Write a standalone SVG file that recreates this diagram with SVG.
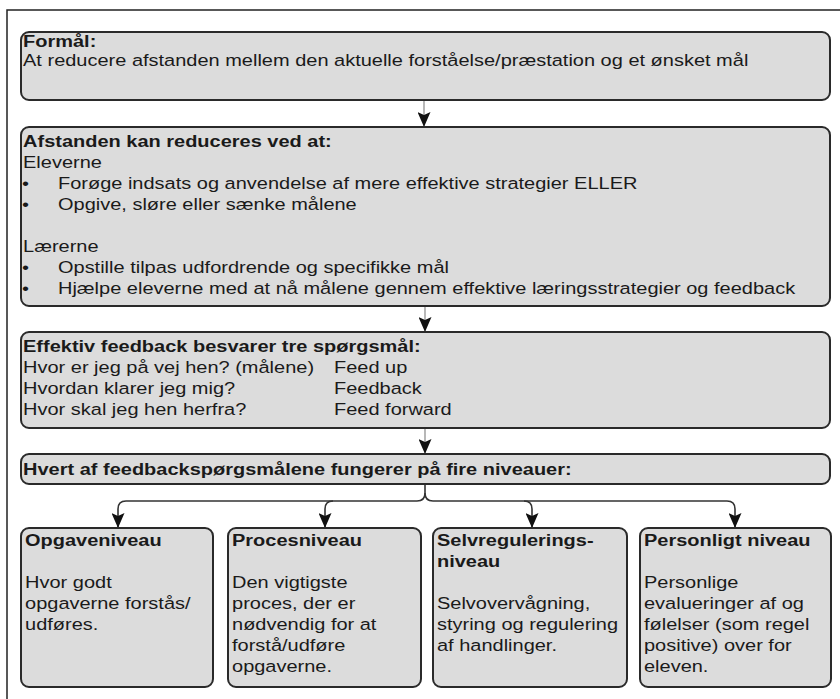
<svg xmlns="http://www.w3.org/2000/svg" width="840" height="699" viewBox="0 0 840 699">
<defs>
<style>
.box{fill:#dcdcdc;stroke:#2a2a2a;stroke-width:2}
.t{font-family:"Liberation Sans",Arial,sans-serif;font-size:17px;fill:#1a1a1a}
.b{font-weight:bold}
.conn{fill:none;stroke:#333;stroke-width:1.6}
.stem{fill:none;stroke:#888;stroke-width:1.2}
.frame{fill:none;stroke:#222;stroke-width:1.5}
</style>
<marker id="ah" viewBox="0 0 15 13" refX="15" refY="6.5" markerWidth="15" markerHeight="13" markerUnits="userSpaceOnUse" orient="auto">
<path d="M0,0 L15,6.5 L0,13 L3,6.5 Z" fill="#111"/>
</marker>
</defs>
<rect width="840" height="699" fill="#ffffff"/>
<path class="frame" d="M7,699 V10 H840"/>

<g id="connectors">
<path class="stem" d="M424,100 V127" marker-end="url(#ah)"/>
<path class="stem" d="M425,306 V332" marker-end="url(#ah)"/>
<path class="stem" d="M425,428 V454" marker-end="url(#ah)"/>
<path class="conn" d="M425,484 V493 Q425,501 417,501 H126 Q118,501 118,509 V528" marker-end="url(#ah)"/>
<path class="conn" d="M333,501 Q325,501 325,509 V528" marker-end="url(#ah)"/>
<path class="conn" d="M425,493 Q425,501 433,501 H727 Q735,501 735,509 V528" marker-end="url(#ah)"/>
<path class="conn" d="M524,501 Q532,501 532,509 V528" marker-end="url(#ah)"/>
</g>

<g id="formaal">
<rect class="box" x="21" y="32" width="809" height="68" rx="8"/>
<g transform="scale(1.176,1)">
<text class="t b" x="19.6" y="47">Formål:</text>
<text class="t" x="19.6" y="66">At reducere afstanden mellem den aktuelle forståelse/præstation og et ønsket mål</text>
</g>
</g>

<g id="afstanden">
<rect class="box" x="21" y="127" width="809" height="179" rx="8"/>
<g transform="scale(1.176,1)">
<text class="t b" x="19.6" y="147">Afstanden kan reduceres ved at:</text>
<text class="t" x="19.6" y="168">Eleverne</text>
<text class="t" x="18.7" y="189">•</text>
<text class="t" x="49.3" y="189">Forøge indsats og anvendelse af mere effektive strategier ELLER</text>
<text class="t" x="18.7" y="210">•</text>
<text class="t" x="49.3" y="210">Opgive, sløre eller sænke målene</text>
<text class="t" x="19.6" y="252">Lærerne</text>
<text class="t" x="18.7" y="273">•</text>
<text class="t" x="49.3" y="273">Opstille tilpas udfordrende og specifikke mål</text>
<text class="t" x="18.7" y="294">•</text>
<text class="t" x="49.3" y="294">Hjælpe eleverne med at nå målene gennem effektive læringsstrategier og feedback</text>
</g>
</g>

<g id="effektiv">
<rect class="box" x="21" y="332" width="809" height="96" rx="8"/>
<g transform="scale(1.176,1)">
<text class="t b" x="19.6" y="352">Effektiv feedback besvarer tre spørgsmål:</text>
<text class="t" x="19.6" y="373">Hvor er jeg på vej hen? (målene)</text>
<text class="t" x="284" y="373">Feed up</text>
<text class="t" x="19.6" y="394">Hvordan klarer jeg mig?</text>
<text class="t" x="284" y="394">Feedback</text>
<text class="t" x="19.6" y="415">Hvor skal jeg hen herfra?</text>
<text class="t" x="284" y="415">Feed forward</text>
</g>
</g>

<g id="hvert">
<rect class="box" x="21" y="454" width="809" height="30" rx="8"/>
<g transform="scale(1.176,1)">
<text class="t b" x="19.6" y="475">Hvert af feedbackspørgsmålene fungerer på fire niveauer:</text>
</g>
</g>

<g id="opgaveniveau">
<rect class="box" x="21" y="528" width="192" height="159" rx="8"/>
<g transform="scale(1.176,1)">
<text class="t b" x="21.3" y="546">Opgaveniveau</text>
<text class="t" x="21.3" y="588">Hvor godt</text>
<text class="t" x="21.3" y="609">opgaverne forstås/</text>
<text class="t" x="21.3" y="630">udføres.</text>
</g>
</g>

<g id="procesniveau">
<rect class="box" x="228" y="528" width="193" height="159" rx="8"/>
<g transform="scale(1.176,1)">
<text class="t b" x="197.3" y="546">Procesniveau</text>
<text class="t" x="197.3" y="588">Den vigtigste</text>
<text class="t" x="197.3" y="609">proces, der er</text>
<text class="t" x="197.3" y="630">nødvendig for at</text>
<text class="t" x="197.3" y="651">forstå/udføre</text>
<text class="t" x="197.3" y="672">opgaverne.</text>
</g>
</g>

<g id="selvregulering">
<rect class="box" x="433" y="528" width="194" height="159" rx="8"/>
<g transform="scale(1.176,1)">
<text class="t b" x="371.6" y="546">Selvregulerings-</text>
<text class="t b" x="371.6" y="567">niveau</text>
<text class="t" x="371.6" y="609">Selvovervågning,</text>
<text class="t" x="371.6" y="630">styring og regulering</text>
<text class="t" x="371.6" y="651">af handlinger.</text>
</g>
</g>

<g id="personligt">
<rect class="box" x="640" y="528" width="191" height="159" rx="8"/>
<g transform="scale(1.176,1)">
<text class="t b" x="547.6" y="546">Personligt niveau</text>
<text class="t" x="547.6" y="588">Personlige</text>
<text class="t" x="547.6" y="609">evalueringer af og</text>
<text class="t" x="547.6" y="630">følelser (som regel</text>
<text class="t" x="547.6" y="651">positive) over for</text>
<text class="t" x="547.6" y="672">eleven.</text>
</g>
</g>
</svg>
